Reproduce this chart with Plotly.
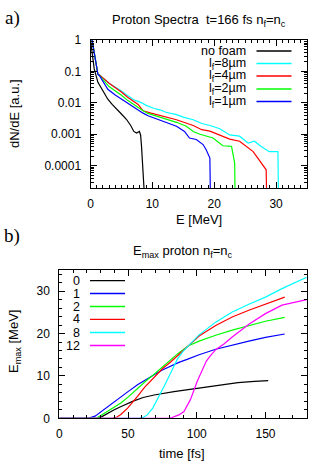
import plotly.graph_objects as go

# ---- panel a) proton spectra, t = 166 fs ----
specNames = ["no foam", "l<sub>f</sub>=8µm", "l<sub>f</sub>=4µm", "l<sub>f</sub>=2µm", "l<sub>f</sub>=1µm"]
specColors = ["black", "#00FFFF", "#FF0000", "#00FF00", "#0000FF"]

eNoFoam = [0.0, 0.3, 0.6, 1.2, 2.0, 2.8, 3.5, 4.3, 5.0, 5.8, 6.5, 7.0, 7.45, 7.9, 8.1, 8.25, 8.5, 8.7, 8.8]
dNoFoam = [1.0, 0.33, 0.12, 0.045, 0.024, 0.013, 0.0089, 0.0063, 0.0044, 0.003, 0.0019, 0.00123, 0.0011,
           0.00123, 0.00095, 0.00041, 0.000095, 0.000036, 0.000006]

e8 = [0.25, 1.2, 1.5, 3, 5, 5.8, 7, 8.2, 9, 10.3, 11.2, 12.2, 13.9, 15, 16.6, 18, 19.3, 20.9, 22.5, 24.1,
      25.5, 26.5, 27.6, 28.9, 30.3, 30.4]
d8 = [1.0, 0.081, 0.076, 0.042, 0.024, 0.018, 0.0126, 0.0102, 0.0083, 0.0066, 0.006, 0.005, 0.0042, 0.0035,
      0.0029, 0.0022, 0.0019, 0.0015, 0.00095, 0.00087, 0.00052, 0.0006, 0.00041, 0.00028, 0.00028, 0.000006]

e4 = [0.25, 1.2, 1.5, 3, 5, 6, 7.7, 8.5, 9.8, 11.2, 13.9, 16.6, 18, 19.3, 20.4, 22.5, 24.1, 26.3, 28.4, 28.5]
d4 = [1.0, 0.081, 0.076, 0.042, 0.022, 0.015, 0.0089, 0.0056, 0.0047, 0.004, 0.0029, 0.0019, 0.0014,
      0.00126, 0.00105, 0.0007, 0.0006, 0.00028, 0.000074, 0.000006]

e2 = [0.25, 1.2, 1.5, 3, 5, 6, 8.5, 9.3, 11.2, 13.9, 15.5, 16.6, 17.7, 19.8, 21.4, 22.8, 23.3, 23.4]
d2 = [1.0, 0.081, 0.072, 0.033, 0.0174, 0.012, 0.0056, 0.0046, 0.0035, 0.0024, 0.0018, 0.00123, 0.001,
      0.00076, 0.00043, 0.00041, 0.000123, 0.000006]

e1 = [0.25, 1.2, 1.5, 2.8, 4, 5, 5.8, 7.1, 8.5, 9.3, 11.2, 13.9, 15.2, 16, 17.1, 18.2, 18.7, 19.3, 19.4]
d1 = [1.0, 0.081, 0.071, 0.027, 0.0178, 0.0132, 0.01, 0.0071, 0.0047, 0.0039, 0.0029, 0.0018, 0.00123,
      0.00076, 0.00068, 0.00047, 0.00032, 0.000174, 0.000006]

specTickVals = [1, 0.1, 0.01, 0.001, 0.0001]
specTickText = ["1", "0.1", "0.01", "0.001", "0.0001"]

# ---- panel b) maximum proton energy vs time ----
emaxNames = ["0", "1", "2", "4", "8", "12"]
emaxColors = ["black", "#0000FF", "#00FF00", "#FF0000", "#00FFFF", "#FF00FF"]

t0 = [0, 27, 31, 35.2, 40, 45, 53.3, 61, 69, 83.4, 100.3, 115, 130, 142, 152]
m0 = [0, 0, 0.4, 1.2, 2.0, 2.8, 4.0, 4.9, 5.5, 6.3, 7.1, 7.8, 8.4, 8.7, 8.9]

t1 = [0, 21, 26, 32.8, 38, 44.8, 50, 56.9, 63, 69, 75, 81, 87, 93, 101.7, 113.8, 125.8, 137.9, 150, 164]
m1 = [0, 0, 0.5, 2.2, 3.5, 5.1, 6.3, 7.9, 9.2, 10.3, 11.4, 12.3, 13.2, 13.9, 15.0, 16.3, 17.3, 18.2, 19.1, 19.9]

t2 = [0, 27, 32.8, 38, 44.8, 50, 56.9, 63, 69, 75, 81, 86, 91.8, 94.5, 101.7, 113.8, 125.8, 137.9, 150, 164]
m2 = [0, 0, 1.2, 2.2, 3.6, 5.0, 7.1, 8.8, 10.4, 12.1, 13.6, 15.2, 16.6, 17.2, 18.2, 19.6, 20.8, 21.9, 22.9, 23.8]

t4 = [0, 38.5, 42, 44.8, 49.7, 53, 56.9, 62, 69, 75, 81, 86, 91.8, 101.7, 113.8, 125.8, 137.9, 150, 164]
m4 = [0, 0, 0.3, 0.9, 2.4, 3.8, 5.2, 7.3, 9.6, 11.7, 13.3, 14.8, 16.3, 19.4, 21.9, 23.9, 25.5, 27.0, 28.6]

t8 = [0, 58, 61, 64, 68, 71.4, 76.2, 81, 85.8, 89.7, 94.5, 101.7, 113.8, 125.8, 137.9, 150, 162, 180]
m8 = [0, 0, 0.2, 0.8, 2.4, 4.4, 7.5, 10.7, 13.9, 15.7, 17.3, 19.7, 22.7, 25.1, 26.9, 28.6, 30.6, 33.3]

t12 = [0, 80, 82, 87, 90.7, 95.4, 100.3, 104, 107, 110, 113.8, 120, 125.8, 137.9, 150, 162, 180]
m12 = [0, 0, 0.2, 0.8, 1.6, 4.4, 8.7, 11.5, 13.5, 14.8, 16.2, 17.6, 19.2, 22.2, 24.7, 26.7, 28.0]

W, H = 332, 464
font = "Liberation Sans"


def px(x):
    return x / W


def py(y):
    return 1 - y / H


fig = go.Figure()

specData = [(eNoFoam, dNoFoam), (e8, d8), (e4, d4), (e2, d2), (e1, d1)]
for (e, d), name, col in zip(specData, specNames, specColors):
    fig.add_trace(go.Scatter(x=e, y=d, mode="lines", name=name, line=dict(color=col, width=1.2),
                             xaxis="x", yaxis="y", showlegend=False))

emaxData = [(t0, m0), (t1, m1), (t2, m2), (t4, m4), (t8, m8), (t12, m12)]
for (t, m), name, col in zip(emaxData, emaxNames, emaxColors):
    fig.add_trace(go.Scatter(x=t, y=m, mode="lines", name=name, line=dict(color=col, width=1.2),
                             xaxis="x2", yaxis="y2", showlegend=False))

axisStyle = dict(showline=True, linecolor="black", linewidth=1, mirror="allticks", ticks="inside",
                 ticklen=6, tickwidth=1, tickcolor="black", showgrid=False, zeroline=False,
                 automargin=False, tickfont=dict(family=font, size=12, color="black"))

fig.update_layout(
    width=W, height=H, margin=dict(l=0, r=0, t=0, b=0),
    paper_bgcolor="white", plot_bgcolor="white", showlegend=False,
    xaxis=dict(axisStyle, domain=[px(90.5), px(307)], range=[0, 35], dtick=10, anchor="y",
               ticklabelstandoff=4,
               minor=dict(ticks="inside", ticklen=3, tickcolor="black", dtick=1)),
    yaxis=dict(axisStyle, domain=[py(188.3), py(40)], type="log", range=[-4.72, 0], anchor="x",
               tickvals=specTickVals, ticktext=specTickText, ticklabelstandoff=6,
               minor=dict(ticks="inside", ticklen=3, tickcolor="black", dtick="D1")),
    xaxis2=dict(axisStyle, domain=[px(59.3), px(306.7)], range=[0, 180], dtick=50, anchor="y2",
                ticklabelstandoff=4,
                minor=dict(ticks="inside", ticklen=3, tickcolor="black", dtick=10)),
    yaxis2=dict(axisStyle, domain=[py(418.3), py(270)], range=[0, 35], dtick=10, anchor="x2",
                ticklabelstandoff=6,
                minor=dict(ticks="inside", ticklen=3, tickcolor="black", dtick=2)),
)

txt = dict(family=font, size=13, color="black")
keyTxt = dict(family=font, size=12.5, color="black")
annots = [
    dict(x=px(12), y=py(17.5), text="a)", font=dict(family="Liberation Serif", size=19, color="black")),
    dict(x=px(12), y=py(236), text="b)", font=dict(family="Liberation Serif", size=19, color="black")),
    dict(x=px(199), y=py(20), text="Proton Spectra&nbsp; t=166 fs n<sub>f</sub>=n<sub>c</sub>", font=txt),
    dict(x=px(183), y=py(251), text="E<sub>max</sub> proton n<sub>f</sub>=n<sub>c</sub>", font=txt),
    dict(x=px(198.5), y=py(219), text="E [MeV]", font=txt),
    dict(x=px(182.5), y=py(453), text="time [fs]", font=txt),
    dict(x=px(14), y=py(114), text="dN/dE [a.u.]", font=txt, textangle=-90),
    dict(x=px(14), y=py(342), text="E<sub>max</sub> [MeV]", font=txt, textangle=-90),
]

# in-plot keys: label right-aligned, line sample to the right
shapes = []
legA = [51, 63.5, 76, 89, 101.5]
for yy, name, col in zip(legA, specNames, specColors):
    annots.append(dict(x=px(248), y=py(yy), text=name, xanchor="right", font=keyTxt))
    shapes.append(dict(type="line", xref="paper", yref="paper", x0=px(256.5), x1=px(291.5),
                       y0=py(yy), y1=py(yy), line=dict(color=col, width=1.3)))
legB = [280.7, 293.5, 306.5, 319.3, 332.5, 345.5]
for yy, name, col in zip(legB, emaxNames, emaxColors):
    annots.append(dict(x=px(82), y=py(yy), text=name, xanchor="right", font=keyTxt))
    shapes.append(dict(type="line", xref="paper", yref="paper", x0=px(90), x1=px(125),
                       y0=py(yy), y1=py(yy), line=dict(color=col, width=1.3)))

for a in annots:
    a.setdefault("xanchor", "center")
    a.update(xref="paper", yref="paper", yanchor="middle", showarrow=False)

fig.update_layout(annotations=annots, shapes=shapes)
# page body has an 8px default margin; drop it so the figure sits at the window corner
fig.write_html("out.html", config={"displayModeBar": False},
               post_script="document.body.style.margin='0';")
